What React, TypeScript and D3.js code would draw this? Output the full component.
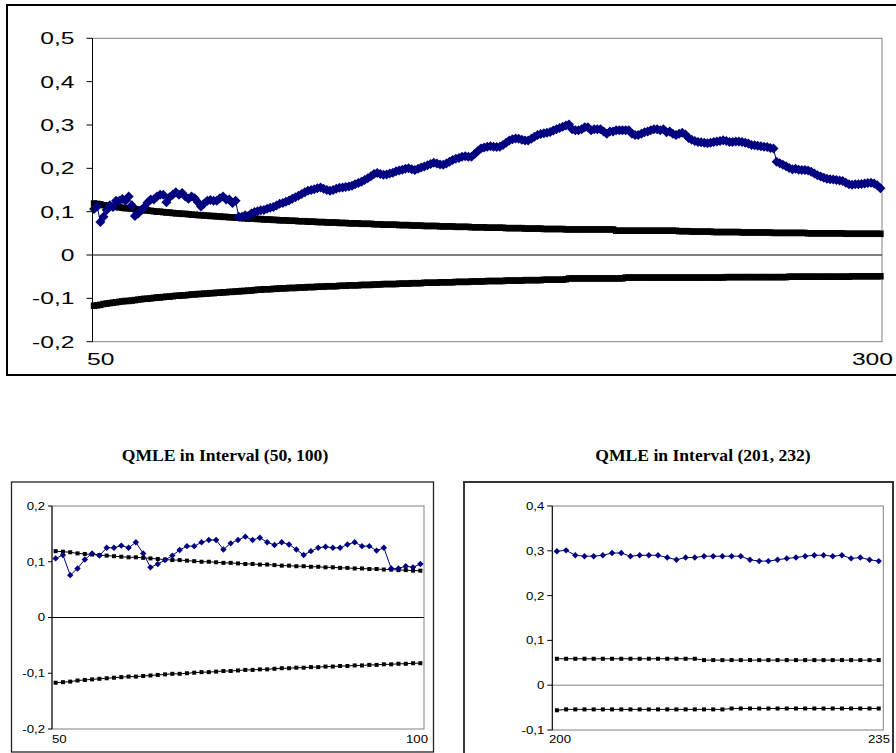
import { useEffect, useRef } from 'react';
import * as d3 from 'd3';

const W = 896, H = 753;

// sample sizes on the x axis (categories)
const periods = d3.range(50, 301);

// QMLE estimate, n = 50 .. 300
const qmle = [
  0.106, 0.112, 0.076, 0.088, 0.104, 0.115, 0.111, 0.125, 0.125, 0.129,
  0.125, 0.135, 0.115, 0.090, 0.096, 0.103, 0.111, 0.121, 0.128, 0.128,
  0.135, 0.139, 0.139, 0.122, 0.133, 0.139, 0.145, 0.139, 0.143, 0.135,
  0.130, 0.135, 0.131, 0.122, 0.112, 0.119, 0.125, 0.127, 0.125, 0.125,
  0.131, 0.135, 0.128, 0.128, 0.120, 0.125, 0.088, 0.088, 0.092, 0.090,
  0.096, 0.099, 0.101, 0.103, 0.104, 0.107, 0.109, 0.111, 0.114, 0.118,
  0.120, 0.123, 0.126, 0.130, 0.133, 0.137, 0.141, 0.145, 0.148, 0.150,
  0.152, 0.154, 0.156, 0.153, 0.150, 0.148, 0.150, 0.153, 0.155, 0.156,
  0.157, 0.158, 0.160, 0.163, 0.166, 0.169, 0.173, 0.177, 0.182, 0.187,
  0.189, 0.187, 0.185, 0.186, 0.188, 0.190, 0.193, 0.195, 0.197, 0.199,
  0.200, 0.198, 0.196, 0.199, 0.202, 0.204, 0.207, 0.210, 0.213, 0.211,
  0.209, 0.208, 0.211, 0.215, 0.219, 0.222, 0.224, 0.227, 0.228, 0.227,
  0.227, 0.233, 0.240, 0.246, 0.248, 0.250, 0.251, 0.250, 0.249, 0.250,
  0.254, 0.259, 0.264, 0.267, 0.269, 0.268, 0.266, 0.264, 0.264, 0.268,
  0.273, 0.277, 0.279, 0.281, 0.282, 0.284, 0.287, 0.290, 0.293, 0.296,
  0.299, 0.301, 0.290, 0.288, 0.288, 0.290, 0.295, 0.295, 0.288, 0.290,
  0.290, 0.290, 0.285, 0.280, 0.285, 0.285, 0.288, 0.288, 0.288, 0.288,
  0.288, 0.280, 0.277, 0.277, 0.280, 0.283, 0.285, 0.288, 0.290, 0.290,
  0.288, 0.290, 0.283, 0.285, 0.280, 0.277, 0.280, 0.282, 0.278, 0.270,
  0.266, 0.263, 0.261, 0.260, 0.259, 0.258, 0.259, 0.261, 0.262, 0.263,
  0.265, 0.263, 0.261, 0.261, 0.262, 0.262, 0.261, 0.259, 0.257, 0.254,
  0.253, 0.252, 0.251, 0.250, 0.249, 0.247, 0.246, 0.215, 0.212, 0.208,
  0.205, 0.201, 0.198, 0.199, 0.197, 0.196, 0.196, 0.195, 0.192, 0.188,
  0.184, 0.181, 0.178, 0.176, 0.175, 0.174, 0.173, 0.172, 0.171, 0.167,
  0.163, 0.162, 0.163, 0.163, 0.164, 0.165, 0.166, 0.167, 0.165, 0.161,
  0.154,
];

// upper confidence bound
const upperBand = [
  0.119, 0.118, 0.117, 0.115, 0.114, 0.113, 0.112, 0.111, 0.110, 0.109,
  0.108, 0.108, 0.107, 0.106, 0.105, 0.104, 0.103, 0.103, 0.102, 0.101,
  0.100, 0.100, 0.099, 0.098, 0.098, 0.097, 0.096, 0.096, 0.095, 0.095,
  0.094, 0.093, 0.093, 0.092, 0.092, 0.091, 0.091, 0.090, 0.090, 0.089,
  0.089, 0.088, 0.088, 0.087, 0.087, 0.086, 0.086, 0.085, 0.085, 0.084,
  0.084, 0.084, 0.083, 0.083, 0.082, 0.082, 0.082, 0.081, 0.081, 0.080,
  0.080, 0.080, 0.079, 0.079, 0.079, 0.078, 0.078, 0.078, 0.077, 0.077,
  0.077, 0.076, 0.076, 0.076, 0.075, 0.075, 0.075, 0.075, 0.074, 0.074,
  0.074, 0.073, 0.073, 0.073, 0.073, 0.072, 0.072, 0.072, 0.072, 0.071,
  0.071, 0.071, 0.070, 0.070, 0.070, 0.070, 0.070, 0.069, 0.069, 0.069,
  0.069, 0.068, 0.068, 0.068, 0.068, 0.067, 0.067, 0.067, 0.067, 0.067,
  0.066, 0.066, 0.066, 0.066, 0.066, 0.065, 0.065, 0.065, 0.065, 0.065,
  0.064, 0.064, 0.064, 0.064, 0.064, 0.063, 0.063, 0.063, 0.063, 0.063,
  0.063, 0.062, 0.062, 0.062, 0.062, 0.062, 0.062, 0.061, 0.061, 0.061,
  0.061, 0.061, 0.061, 0.060, 0.060, 0.060, 0.060, 0.060, 0.060, 0.060,
  0.059, 0.059, 0.059, 0.059, 0.059, 0.059, 0.059, 0.059, 0.059, 0.059,
  0.059, 0.059, 0.059, 0.059, 0.059, 0.059, 0.056, 0.056, 0.056, 0.056,
  0.056, 0.056, 0.056, 0.056, 0.056, 0.056, 0.056, 0.056, 0.056, 0.056,
  0.056, 0.056, 0.056, 0.056, 0.056, 0.056, 0.055, 0.055, 0.055, 0.055,
  0.054, 0.054, 0.054, 0.054, 0.054, 0.054, 0.054, 0.053, 0.053, 0.053,
  0.053, 0.053, 0.053, 0.053, 0.053, 0.053, 0.052, 0.052, 0.052, 0.052,
  0.052, 0.052, 0.052, 0.052, 0.052, 0.052, 0.051, 0.051, 0.051, 0.051,
  0.051, 0.051, 0.051, 0.051, 0.051, 0.051, 0.051, 0.050, 0.050, 0.050,
  0.050, 0.050, 0.050, 0.050, 0.050, 0.050, 0.050, 0.050, 0.050, 0.049,
  0.049, 0.049, 0.049, 0.049, 0.049, 0.049, 0.049, 0.049, 0.049, 0.049,
  0.049,
];

// lower confidence bound
const lowerBand = [
  -0.117, -0.116, -0.115, -0.113, -0.112, -0.111, -0.110, -0.109, -0.108, -0.107,
  -0.106, -0.106, -0.105, -0.104, -0.103, -0.102, -0.101, -0.101, -0.100, -0.099,
  -0.098, -0.098, -0.097, -0.096, -0.096, -0.095, -0.094, -0.094, -0.093, -0.093,
  -0.092, -0.091, -0.091, -0.090, -0.090, -0.089, -0.089, -0.088, -0.088, -0.087,
  -0.087, -0.086, -0.086, -0.085, -0.085, -0.084, -0.084, -0.083, -0.083, -0.082,
  -0.082, -0.081, -0.080, -0.080, -0.079, -0.079, -0.079, -0.078, -0.078, -0.077,
  -0.077, -0.077, -0.076, -0.076, -0.076, -0.075, -0.075, -0.075, -0.074, -0.074,
  -0.074, -0.073, -0.073, -0.073, -0.072, -0.072, -0.072, -0.072, -0.071, -0.071,
  -0.071, -0.070, -0.070, -0.070, -0.070, -0.069, -0.069, -0.069, -0.069, -0.068,
  -0.068, -0.068, -0.067, -0.067, -0.067, -0.067, -0.067, -0.066, -0.066, -0.066,
  -0.066, -0.065, -0.065, -0.065, -0.065, -0.064, -0.064, -0.064, -0.064, -0.064,
  -0.063, -0.063, -0.063, -0.063, -0.063, -0.062, -0.062, -0.062, -0.062, -0.062,
  -0.061, -0.061, -0.061, -0.061, -0.061, -0.060, -0.060, -0.060, -0.060, -0.060,
  -0.060, -0.059, -0.059, -0.059, -0.059, -0.059, -0.059, -0.058, -0.058, -0.058,
  -0.058, -0.058, -0.058, -0.057, -0.057, -0.057, -0.057, -0.057, -0.057, -0.057,
  -0.056, -0.054, -0.054, -0.054, -0.054, -0.054, -0.054, -0.054, -0.054, -0.054,
  -0.054, -0.054, -0.054, -0.054, -0.054, -0.054, -0.054, -0.054, -0.054, -0.052,
  -0.052, -0.052, -0.052, -0.052, -0.052, -0.052, -0.052, -0.052, -0.052, -0.052,
  -0.052, -0.052, -0.052, -0.052, -0.052, -0.052, -0.052, -0.052, -0.052, -0.052,
  -0.052, -0.052, -0.052, -0.052, -0.052, -0.052, -0.052, -0.052, -0.052, -0.052,
  -0.052, -0.051, -0.051, -0.051, -0.051, -0.051, -0.051, -0.051, -0.051, -0.051,
  -0.051, -0.051, -0.051, -0.051, -0.051, -0.051, -0.051, -0.051, -0.051, -0.051,
  -0.051, -0.050, -0.050, -0.050, -0.050, -0.050, -0.050, -0.050, -0.050, -0.050,
  -0.050, -0.050, -0.050, -0.050, -0.050, -0.050, -0.050, -0.050, -0.050, -0.050,
  -0.050, -0.049, -0.049, -0.049, -0.049, -0.049, -0.049, -0.049, -0.049, -0.049,
  -0.049,
];

const topTicks = [-0.2, -0.1, 0, 0.1, 0.2, 0.3, 0.4, 0.5];
const leftTicks = [-0.2, -0.1, 0, 0.1, 0.2];
const rightTicks = [-0.1, 0, 0.1, 0.2, 0.3, 0.4];
const leftWindow = [50, 100];
const rightWindow = [200, 235];
const titles = ['QMLE in Interval (50, 100)', 'QMLE in Interval (201, 232)'];

const NAVY = '#000080';
const SANS = 'Liberation Sans, Arial, sans-serif';
const SERIF = 'Liberation Serif, Times New Roman, serif';

type Sel = d3.Selection<SVGGElement, unknown, null, undefined>;

interface PanelOpts {
  from: number; to: number;
  x0: number; x1: number; yTop: number; yBot: number;
  ticks: number[];
  font: number; stretch: number; tickLen: number; labelGap: number;
  diamond: number; square: number;
  zeroColor: string;
  xLab: { first: number; last: number; base: number };
}

const fmt = (v: number) => String(v).replace('.', ',');

function stretchedText(g: Sel, x: number, y: number, s: string, size: number, sx: number,
  anchor: string, family = SANS, weight = 'normal') {
  g.append('text')
    .attr('transform', `translate(${x},${y}) scale(${sx},1)`)
    .attr('text-anchor', anchor)
    .attr('font-family', family)
    .attr('font-weight', weight)
    .attr('font-size', size)
    .attr('fill', '#000')
    .text(s);
}

function drawPanel(g: Sel, o: PanelOpts) {
  const i0 = periods.indexOf(o.from), i1 = periods.indexOf(o.to) + 1;
  const cats = periods.slice(i0, i1);
  const series = [
    { vals: upperBand.slice(i0, i1), kind: 'sq' },
    { vals: lowerBand.slice(i0, i1), kind: 'sq' },
    { vals: qmle.slice(i0, i1), kind: 'dia' },
  ];

  const x = d3.scaleBand<number>().domain(cats).range([o.x0, o.x1]);
  const cx = (n: number) => (x(n) as number) + x.bandwidth() / 2;
  const y = d3.scaleLinear().domain([o.ticks[0], o.ticks[o.ticks.length - 1]]).range([o.yBot, o.yTop]);

  // plot area border
  g.append('rect').attr('x', o.x0).attr('y', o.yTop)
    .attr('width', o.x1 - o.x0).attr('height', o.yBot - o.yTop)
    .attr('fill', 'none').attr('stroke', '#808080').attr('stroke-width', 1);

  // category axis at zero
  g.append('line').attr('x1', o.x0).attr('x2', o.x1).attr('y1', y(0)).attr('y2', y(0))
    .attr('stroke', o.zeroColor).attr('stroke-width', 1);

  const line = d3.line<number>().x((_, i) => cx(cats[i])).y(d => y(d));

  series.forEach(s => {
    const color = s.kind === 'dia' ? NAVY : '#000';
    g.append('path').datum(s.vals).attr('d', line)
      .attr('fill', 'none').attr('stroke', color).attr('stroke-width', 1);
    if (s.kind === 'sq') {
      g.selectAll(null).data(s.vals).enter().append('rect')
        .attr('x', (_, i) => cx(cats[i]) - o.square / 2)
        .attr('y', d => y(d) - o.square / 2)
        .attr('width', o.square).attr('height', o.square)
        .attr('fill', '#000');
    } else {
      const r = o.diamond;
      g.selectAll(null).data(s.vals).enter().append('path')
        .attr('d', `M0,${-r}L${r},0L0,${r}L${-r},0Z`)
        .attr('transform', (d, i) => `translate(${cx(cats[i])},${y(d)})`)
        .attr('fill', NAVY);
    }
  });

  // value axis
  g.append('line').attr('x1', o.x0).attr('x2', o.x0).attr('y1', o.yTop).attr('y2', o.yBot)
    .attr('stroke', '#000').attr('stroke-width', 1);
  o.ticks.forEach(t => {
    g.append('line').attr('x1', o.x0 - o.tickLen).attr('x2', o.x0)
      .attr('y1', y(t)).attr('y2', y(t)).attr('stroke', '#000');
    stretchedText(g, o.x0 - o.tickLen - o.labelGap, y(t) + o.font * 0.36, fmt(t), o.font, o.stretch, 'end');
  });

  // category labels: only first and last
  stretchedText(g, o.xLab.first, o.xLab.base, String(o.from), o.font, o.stretch, 'start');
  stretchedText(g, o.xLab.last, o.xLab.base, String(o.to), o.font, o.stretch, 'end');
}

export default function App() {
  const svgRef = useRef<SVGSVGElement>(null);

  useEffect(() => {
    const svg = d3.select(svgRef.current);
    svg.selectAll('*').remove();
    const root = svg.append('g') as unknown as Sel;

    root.append('rect').attr('width', W).attr('height', H).attr('fill', '#fff');

    // chart frames
    root.append('rect').attr('x', 7).attr('y', 5).attr('width', 900).attr('height', 370)
      .attr('fill', 'none').attr('stroke', '#000').attr('stroke-width', 2);
    root.append('rect').attr('x', 11.5).attr('y', 482).attr('width', 422).attr('height', 270)
      .attr('fill', 'none').attr('stroke', '#222').attr('stroke-width', 1.3);
    root.append('rect').attr('x', 464).attr('y', 482).attr('width', 429).attr('height', 280)
      .attr('fill', 'none').attr('stroke', '#333').attr('stroke-width', 2);

    drawPanel(root, {
      from: 50, to: 300, x0: 92.5, x1: 882, yTop: 38.3, yBot: 341.7,
      ticks: topTicks, font: 17, stretch: 1.45, tickLen: 6, labelGap: 12,
      diamond: 5, square: 6.5, zeroColor: '#000',
      xLab: { first: 87, last: 893, base: 365 },
    });
    drawPanel(root, {
      from: leftWindow[0], to: leftWindow[1], x0: 52, x1: 424, yTop: 506, yBot: 729,
      ticks: leftTicks, font: 11, stretch: 1.2, tickLen: 4, labelGap: 3,
      diamond: 3.2, square: 4, zeroColor: '#000',
      xLab: { first: 52, last: 428, base: 743 },
    });
    drawPanel(root, {
      from: rightWindow[0], to: rightWindow[1], x0: 552.3, x1: 883.3, yTop: 506, yBot: 730,
      ticks: rightTicks, font: 11, stretch: 1.2, tickLen: 5, labelGap: 3,
      diamond: 3.2, square: 4, zeroColor: '#808080',
      xLab: { first: 549, last: 890, base: 743 },
    });

    const tx = [225, 703];
    titles.forEach((t, i) => {
      stretchedText(root, tx[i], 461, t, 16, 1.1, 'middle', SERIF, 'bold');
    });
  }, []);

  return (
    <svg
      ref={svgRef}
      width={W}
      height={H}
      style={{ position: 'absolute', left: 0, top: 0, display: 'block' }}
    />
  );
}
